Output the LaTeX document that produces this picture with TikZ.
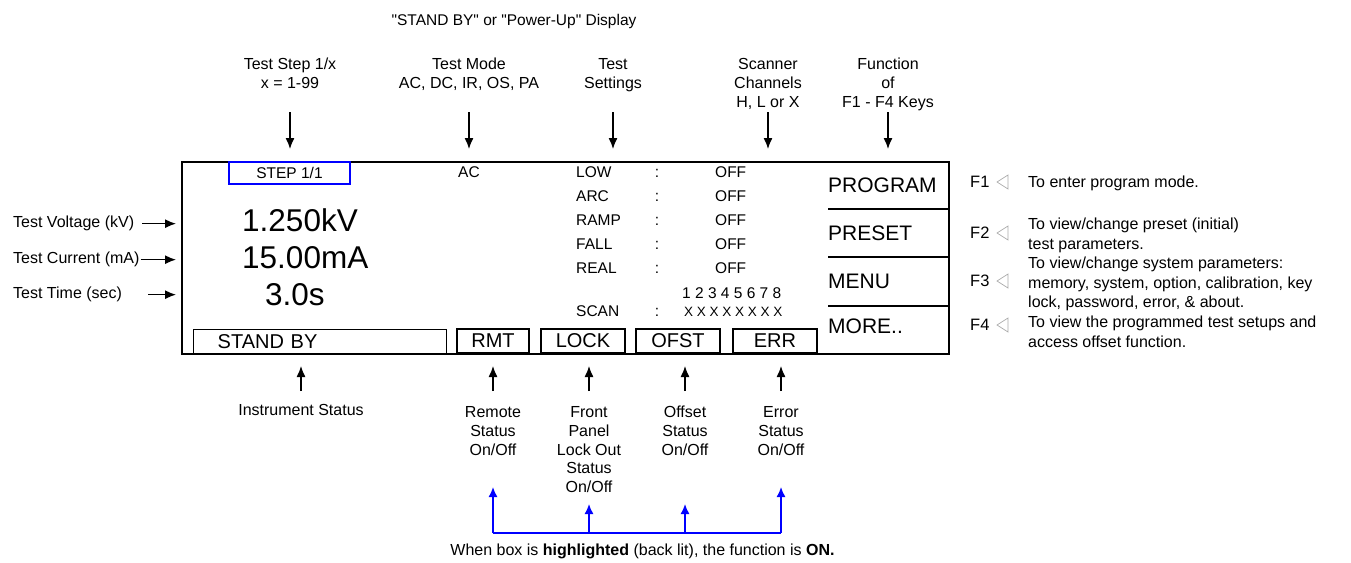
\documentclass[tikz,border=0pt]{standalone}
\usepackage{fontspec}
\setmainfont{Liberation Sans}
\usetikzlibrary{arrows.meta,calc}
\newcommand\myfs[2]{\fontsize{#1}{#2}\selectfont}
\definecolor{trigray}{RGB}{170,170,170}
\begin{document}
\begin{tikzpicture}[x=1pt,y=-1pt,
  lbl/.style={inner sep=0pt, font=\myfs{16}{19}, align=center, anchor=base},
  blbl/.style={inner sep=0pt, font=\myfs{16}{18.6}, align=center, anchor=base},
  desc/.style={inner sep=0pt, font=\myfs{16}{19.5}, align=left, anchor=base west},
  dtxt/.style={inner sep=0pt, font=\myfs{15.5}{18}, anchor=base west},
  big/.style={inner sep=0pt, font=\myfs{31.5}{36}, anchor=base west},
  fkey/.style={inner sep=0pt, font=\myfs{21}{24}, anchor=base west},
  sbox/.style={draw, line width=1.4pt, inner sep=0pt, minimum height=24pt, font=\myfs{20}{24}},
  arr/.style={line width=1.3pt, -{Latex[length=11pt,width=9pt]}},
  barr/.style={line width=1.5pt, draw=blue, -{Latex[length=10pt,width=9pt]}},
  tri/.style={draw=trigray, line width=0.7pt}
]
\useasboundingbox (0,0) rectangle (1351,562);

% title
\node[inner sep=0pt, font=\myfs{15.5}{18}, anchor=base] (title) at (514,25.5) {\textquotedbl STAND BY\textquotedbl\ or \textquotedbl Power-Up\textquotedbl\ Display};

% main display
\node[draw, line width=1.7pt, inner sep=0pt, anchor=north west, minimum width=767pt, minimum height=192pt] (disp) at (181,161) {};

% function key dividers
\draw[line width=1.2pt] (828,209) -- (disp.east |- 0,209);
\draw[line width=1.2pt] (828,257) -- (disp.east |- 0,257);
\draw[line width=1.2pt] (828,306) -- (disp.east |- 0,306);
\node[fkey] (prog) at (828,192) {PROGRAM};
\node[fkey] (pres) at (828,240) {PRESET};
\node[fkey] (menu) at (828,288) {MENU};
\node[fkey] (more) at (828,333) {MORE..};

% top-left of display
\node[draw=blue, line width=1.2pt, inner sep=0pt, minimum width=121pt, minimum height=22pt, font=\myfs{15.5}{18}] (step) at (289.5,173) {STEP 1/1};
\node[dtxt, anchor=base] (ac) at (469,177.6) {AC};

% test settings
\node[dtxt] (low) at (576,177.6) {LOW};
\node[dtxt] (arc) at (576,201.6) {ARC};
\node[dtxt] (ramp) at (576,225.6) {RAMP};
\node[dtxt] (fall) at (576,249.6) {FALL};
\node[dtxt] (real) at (576,273.6) {REAL};
\node[dtxt] (scan) at (576,316.6) {SCAN};
\foreach \y/\n in {177.6/1,201.6/2,225.6/3,249.6/4,273.6/5,316.6/6}{
  \node[dtxt, anchor=base] (col\n) at (657,\y) {:};
}
\foreach \y/\n in {177.6/1,201.6/2,225.6/3,249.6/4,273.6/5}{
  \node[dtxt] (off\n) at (715,\y) {OFF};
}
\node[dtxt] (chan) at (682,298.6) {1 2 3 4 5 6 7 8};
\node[dtxt, font=\myfs{13.5}{16}] (xs) at (684,316.6) {X X X X X X X X};

% big readings
\node[big] (volt) at (242,231.3) {1.250kV};
\node[big] (curr) at (242,268.8) {15.00mA};
\node[big] (time) at (265,305) {3.0s};

% status boxes
\node[sbox, anchor=north west, text width=205pt, inner xsep=24pt, align=left] (stby) at (193,329) {STAND BY};
\node[sbox, minimum width=72pt] (rmt) at (493,341) {RMT};
\node[sbox, minimum width=84pt] (lock) at (583,341) {LOCK};
\node[sbox, minimum width=84pt] (ofst) at (678,341) {OFST};
\node[sbox, minimum width=84pt] (err) at (775,341) {ERR};

% top labels and arrows (base = last line)
\node[lbl] (tstep) at (290,88.8) {Test Step 1/x\\x = 1-99};
\node[lbl] (tmode) at (469,88.8) {Test Mode\\AC, DC, IR, OS, PA};
\node[lbl] (tset) at (613,88.8) {Test\\Settings};
\node[lbl] (tscan) at (768,107.8) {Scanner\\Channels\\H, L or X};
\node[lbl] (tfunc) at (888,107.8) {Function\\of\\F1 - F4 Keys};
\coordinate (topA) at (0,112);
\coordinate (topB) at (0,149);
\foreach \n in {tstep,tmode,tset,tscan,tfunc}{
  \draw[arr] (\n |- topA) -- (\n |- topB);
}

% left labels and arrows
\node[lbl, anchor=base west] (lvolt) at (13,227.8) {Test Voltage (kV)};
\node[lbl, anchor=base west] (lcurr) at (13,263.8) {Test Current (mA)};
\node[lbl, anchor=base west] (ltime) at (13,298.8) {Test Time (sec)};
\draw[arr] ($(lvolt.east)+(8,0)$) -- ($(disp.west |- lvolt.east)+(-5,0)$);
\draw[arr] ($(lcurr.east)+(1,0)$) -- ($(disp.west |- lcurr.east)+(-5,0)$);
\draw[arr] ($(ltime.east)+(26,0)$) -- ($(disp.west |- ltime.east)+(-5,0)$);

% bottom labels and arrows (base = last line)
\node[blbl] (linst) at (301,415.8) {Instrument Status};
\node[blbl] (lrmt) at (493,455) {Remote\\Status\\On/Off};
\node[blbl] (llock) at (589,492.2) {Front\\Panel\\Lock Out\\Status\\On/Off};
\node[blbl] (lofst) at (685,455) {Offset\\Status\\On/Off};
\node[blbl] (lerr) at (781,455) {Error\\Status\\On/Off};
\coordinate (botA) at (0,391);
\coordinate (botB) at (0,366);
\draw[arr] (linst |- botA) -- (linst |- botB);
\foreach \n in {lrmt,llock,lofst,lerr}{
  \draw[arr] (\n |- botA) -- (\n |- botB);
}

% blue connector
\coordinate (bline) at (0,533);
\coordinate (tipHi) at (0,487);
\coordinate (tipLo) at (0,504);
\draw[line width=1.5pt, blue] (lrmt |- bline) -- (lerr |- bline);
\draw[barr] (lrmt |- bline) -- (lrmt |- tipHi);
\draw[barr] (lerr |- bline) -- (lerr |- tipHi);
\draw[barr] (llock |- bline) -- (llock |- tipLo);
\draw[barr] (lofst |- bline) -- (lofst |- tipLo);
\node[blbl] (note) at (642.5,555.8) {When box is \textbf{highlighted} (back lit), the function is \textbf{ON.}};

% function key descriptions
\node[lbl, anchor=base west, font=\myfs{16.5}{19}] (f1) at (970,187.8) {F1};
\node[lbl, anchor=base west, font=\myfs{16.5}{19}] (f2) at (970,238.8) {F2};
\node[lbl, anchor=base west, font=\myfs{16.5}{19}] (f3) at (970,286.8) {F3};
\node[lbl, anchor=base west, font=\myfs{16.5}{19}] (f4) at (970,330.8) {F4};
\foreach \n/\y in {1/182,2/233,3/281,4/325}{
  \coordinate (tri\n) at (1002.5,\y);
  \draw[tri] ($(tri\n)+(5.5,-7)$) -- ($(tri\n)+(-5.5,0)$) -- ($(tri\n)+(5.5,7)$) -- cycle;
}
\node[desc] (d1) at (1028,187.8) {To enter program mode.};
\node[desc] (d2) at (1028,249.3) {To view/change preset (initial)\\test parameters.};
\node[desc] (d3) at (1028,307.8) {To view/change system parameters:\\memory, system, option, calibration, key\\lock, password, error, \& about.};
\node[desc] (d4) at (1028,347.3) {To view the programmed test setups and\\access offset function.};
\end{tikzpicture}
\end{document}
